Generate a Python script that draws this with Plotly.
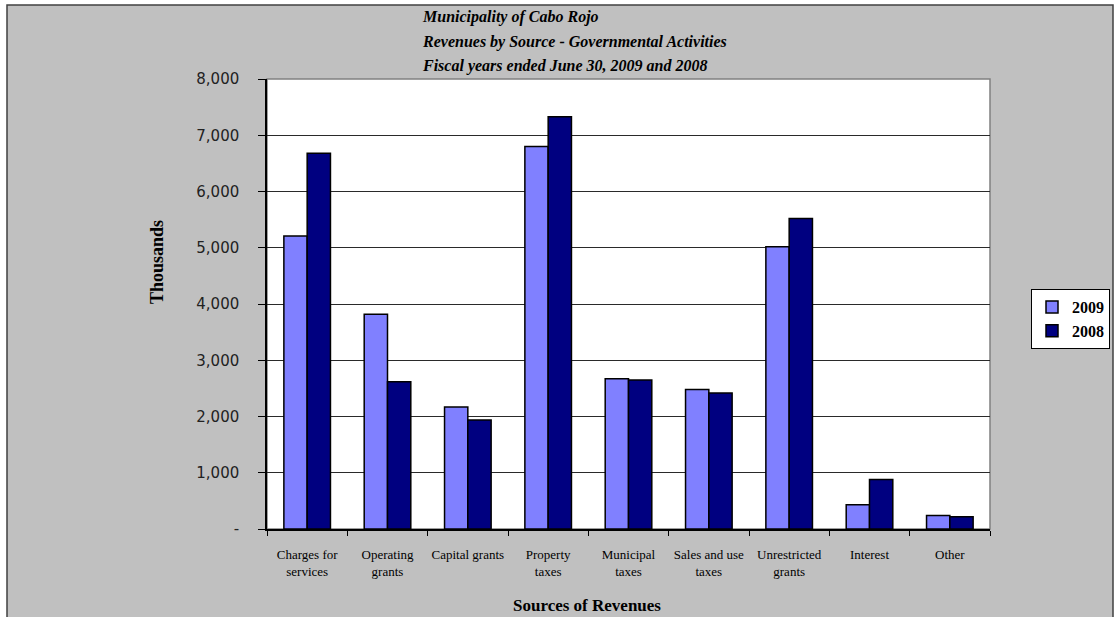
import plotly.graph_objects as go

categories = ["Charges for<br>services", "Operating<br>grants", "Capital grants", "Property<br>taxes",
              "Municipal<br>taxes", "Sales and use<br>taxes", "Unrestricted<br>grants", "Interest", "Other"]
values_2009 = [5210, 3820, 2170, 6800, 2670, 2480, 5020, 430, 240]
values_2008 = [6680, 2620, 1940, 7330, 2650, 2420, 5520, 880, 220]
tick_vals = [0, 1000, 2000, 3000, 4000, 5000, 6000, 7000, 8000]
tick_text = ["-", "1,000", "2,000", "3,000", "4,000", "5,000", "6,000", "7,000", "8,000"]
title_lines = ["Municipality of Cabo Rojo",
               "Revenues by Source - Governmental Activities",
               "Fiscal years ended June 30, 2009 and 2008"]

W, H = 1116, 617
L, R, T, B = 267, 990, 79, 529
pw, ph = R - L, B - T

def px(x):
    return (x - L) / pw

def py(y):
    return (B - y) / ph

SERIF = "Liberation Serif"

fig = go.Figure()
fig.add_trace(go.Bar(name="2009", x=categories, y=values_2009,
                     marker=dict(color="#8080FF", line=dict(color="black", width=1.5))))
fig.add_trace(go.Bar(name="2008", x=categories, y=values_2008,
                     marker=dict(color="#000080", line=dict(color="black", width=1.5))))

shapes = [
    dict(type="rect", xref="paper", yref="paper", x0=px(7), x1=px(1113), y0=py(625), y1=py(5),
         fillcolor="#C0C0C0", line=dict(color="#404040", width=1.5), layer="below"),
    dict(type="rect", xref="paper", yref="paper", x0=0, x1=1, y0=0, y1=1,
         fillcolor="white", line=dict(color="#808080", width=1.5), layer="below"),
]

annotations = []
for i, line in enumerate(title_lines):
    annotations.append(dict(text=f"<b><i>{line}</i></b>", xref="paper", yref="paper",
                            x=px(420), y=py([17, 42, 66][i]), xanchor="left", yanchor="middle",
                            showarrow=False, font=dict(family=SERIF, size=16, color="black")))
annotations.append(dict(text="<b>Thousands</b>", xref="paper", yref="paper", x=px(157), y=py(262),
                        textangle=-90, xanchor="center", yanchor="middle", showarrow=False,
                        font=dict(family=SERIF, size=18, color="black")))
annotations.append(dict(text="<b>Sources of Revenues</b>", xref="paper", yref="paper", x=px(587), y=py(605),
                        xanchor="center", yanchor="middle", showarrow=False,
                        font=dict(family=SERIF, size=17, color="black")))

fig.update_layout(
    width=W, height=H,
    margin=dict(l=L, r=W - R, t=T, b=H - B, autoexpand=False),
    paper_bgcolor="white", plot_bgcolor="rgba(0,0,0,0)",
    barmode="group", bargap=0.42, bargroupgap=0,
    shapes=shapes, annotations=annotations,
    showlegend=True,
    legend=dict(x=px(1031), y=py(289), xanchor="left", yanchor="top",
                bgcolor="white", bordercolor="black", borderwidth=1,
                font=dict(family=SERIF, size=16, color="black", weight="bold"),
                itemwidth=30, tracegroupgap=2),
    xaxis=dict(showline=True, linecolor="black", linewidth=1.5, ticks="outside", ticklen=5,
               tickcolor="black", tickson="boundaries", showgrid=False, tickangle=0,
               tickfont=dict(family=SERIF, size=13, color="black"), ticklabelstandoff=13),
    yaxis=dict(range=[0, 8000], tickvals=tick_vals, ticktext=tick_text, showline=True,
               linecolor="black", linewidth=1.5, ticks="outside", ticklen=7, tickcolor="black",
               showgrid=True, gridcolor="#2a2a2a", gridwidth=1, zeroline=False,
               tickfont=dict(family="DejaVu Sans", size=15, color="#222222"), ticklabelstandoff=16),
)

fig.write_html("out.html", config={"displayModeBar": False},
               post_script="document.body.style.margin='0';")
